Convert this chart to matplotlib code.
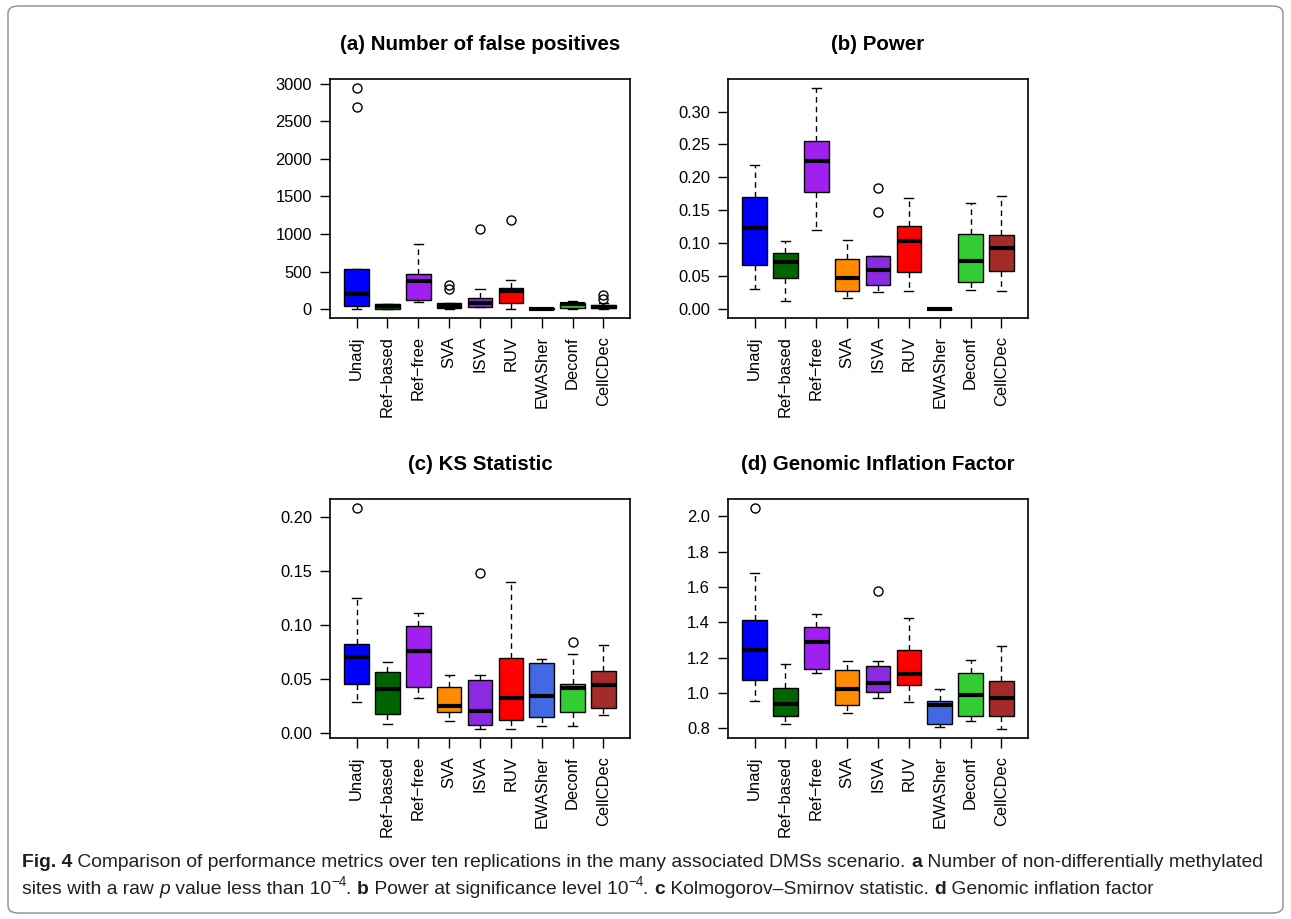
import matplotlib
matplotlib.use("Agg")
import matplotlib.pyplot as plt
from matplotlib.patches import FancyBboxPatch
import numpy as np

methods = ["Unadj", "Ref\u2212based", "Ref\u2212free", "SVA", "ISVA", "RUV",
           "EWASher", "Deconf", "CellCDec"]
colors = ["#0000FF", "#006400", "#A020F0", "#FF8C00", "#8A2BE2", "#FF0000",
          "#4169E1", "#32CD32", "#A52A2A"]

# (a) number of false positives
fp_whislo = [5, 0, 89, 5, 25, 5, 0, 5, 5]
fp_q1 = [40, 4, 124, 13, 31, 80, 2, 13, 10]
fp_med = [208, 40, 377, 45, 84, 248, 5, 62, 28]
fp_q3 = [536, 71, 470, 80, 142, 279, 12, 80, 60]
fp_whishi = [540, 75, 868, 85, 266, 385, 20, 102, 78]
fp_fliers = [[2946, 2685], [], [], [319, 270], [1072], [1183], [], [], [195, 138]]

# (b) power
pw_whislo = [0.0304, 0.0121, 0.1199, 0.0167, 0.0258, 0.0283, 0.0, 0.0293, 0.0268]
pw_q1 = [0.0668, 0.048, 0.1776, 0.0268, 0.0364, 0.0567, 0.0, 0.041, 0.0582]
pw_med = [0.123, 0.0723, 0.2246, 0.0476, 0.0592, 0.1042, 0.0, 0.0728, 0.0921]
pw_q3 = [0.170, 0.0855, 0.255, 0.0759, 0.0804, 0.126, 0.0, 0.1148, 0.1128]
pw_whishi = [0.2196, 0.104, 0.336, 0.1057, 0.0810, 0.1685, 0.0, 0.161, 0.1715]
pw_fliers = [[], [], [], [], [0.1847, 0.1482], [], [], [], []]

# (c) KS statistic
ks_whislo = [0.0287, 0.0086, 0.0324, 0.0111, 0.0034, 0.004, 0.0062, 0.0065, 0.0164]
ks_q1 = [0.0454, 0.017, 0.0429, 0.0194, 0.0071, 0.0117, 0.0151, 0.0191, 0.0228]
ks_med = [0.0707, 0.041, 0.0759, 0.0253, 0.0198, 0.0321, 0.0346, 0.042, 0.0444]
ks_q3 = [0.0821, 0.0562, 0.0991, 0.0426, 0.0488, 0.0698, 0.0651, 0.0451, 0.0571]
ks_whishi = [0.1247, 0.0657, 0.1114, 0.0537, 0.0534, 0.1395, 0.0682, 0.0731, 0.0815]
ks_fliers = [[0.2086], [], [], [], [0.1478], [], [], [0.0846], []]

# (d) genomic inflation factor
gif_whislo = [0.953, 0.8245, 1.111, 0.883, 0.9698, 0.947, 0.804, 0.843, 0.794]
gif_q1 = [1.0736, 0.868, 1.136, 0.932, 1.0075, 1.0434, 0.826, 0.866, 0.870]
gif_med = [1.2415, 0.938, 1.2906, 1.0245, 1.0547, 1.1075, 0.930, 0.985, 0.968]
gif_q3 = [1.415, 1.030, 1.375, 1.130, 1.153, 1.243, 0.953, 1.113, 1.068]
gif_whishi = [1.677, 1.164, 1.445, 1.179, 1.183, 1.4245, 1.0208, 1.185, 1.264]
gif_fliers = [[2.049], [], [], [], [1.579], [], [], [], []]

titles = ["(a) Number of false positives", "(b) Power", "(c) KS Statistic",
          "(d) Genomic Inflation Factor"]
panels = [
    (fp_whislo, fp_q1, fp_med, fp_q3, fp_whishi, fp_fliers, np.arange(0, 3001, 500), "%d"),
    (pw_whislo, pw_q1, pw_med, pw_q3, pw_whishi, pw_fliers, np.arange(0, 0.301, 0.05), "%.2f"),
    (ks_whislo, ks_q1, ks_med, ks_q3, ks_whishi, ks_fliers, np.arange(0, 0.201, 0.05), "%.2f"),
    (gif_whislo, gif_q1, gif_med, gif_q3, gif_whishi, gif_fliers, np.arange(0.8, 2.01, 0.2), "%.1f"),
]

plt.rcParams['font.family'] = ['Liberation Sans', 'DejaVu Sans']

W, H = 1291, 919
fig = plt.figure(figsize=(W / 100, H / 100), dpi=100)
fig.patch.set_facecolor("white")

# axes boxes in pixels: left, top
boxes_px = [(330, 79), (728, 79), (330, 499), (728, 499)]
aw, ah = 300, 239

for (lx, ty), title, (wlo, q1, med, q3, whi, fl, yt, fmt) in zip(boxes_px, titles, panels):
    ax = fig.add_axes([lx / W, 1 - (ty + ah) / H, aw / W, ah / H])
    stats = []
    for i in range(len(methods)):
        stats.append(dict(med=med[i], q1=q1[i], q3=q3[i], whislo=wlo[i],
                          whishi=whi[i], fliers=fl[i]))
    bp = ax.bxp(stats, positions=np.arange(1, 10), widths=0.8, capwidths=0.3,
                patch_artist=True,
                boxprops=dict(edgecolor="black", linewidth=1.0),
                medianprops=dict(color="black", linewidth=3.0, solid_capstyle="butt"),
                whiskerprops=dict(color="black", linewidth=1.0, linestyle=(0, (4, 3))),
                capprops=dict(color="black", linewidth=1.0),
                flierprops=dict(marker="o", markerfacecolor="none",
                                markeredgecolor="black", markersize=6.5,
                                markeredgewidth=1.0))
    for patch, c in zip(bp["boxes"], colors):
        patch.set_facecolor(c)

    allv = wlo + whi + [v for f in fl for v in f]
    lo, hi = min(allv), max(allv)
    r = hi - lo
    ax.set_ylim(lo - 0.04 * r, hi + 0.04 * r)
    ax.set_xlim(0.14, 9.86)

    ax.set_yticks(yt)
    ax.set_yticklabels([fmt % v for v in yt])
    ax.set_xticks(np.arange(1, 10))
    ax.set_xticklabels(methods, rotation=90)
    ax.tick_params(axis="both", direction="out", length=7, width=1.0,
                   labelsize=11.9, pad=6, colors="black")
    for s in ax.spines.values():
        s.set_linewidth(1.2)
    ax.set_title(title, fontsize=14.8, fontweight="bold", pad=21)

# figure frame with rounded corners
frame = FancyBboxPatch((8 / W, 6 / H), (1283 - 8) / W, (913 - 6) / H,
                       boxstyle="round,pad=0,rounding_size=0.008",
                       transform=fig.transFigure, facecolor="none",
                       edgecolor="#8c8c8c", linewidth=1.0)
fig.patches.append(frame)

# caption, assembled from styled runs
cap_size = 13.9
renderer = fig.canvas.get_renderer()


def write_runs(x0, y, parts):
    x = x0
    for text, style in parts:
        kw = dict(fontsize=cap_size, color="#231f20", va="baseline", ha="left")
        dy = 0
        if style == "b":
            kw["fontweight"] = "bold"
        elif style == "i":
            kw["fontstyle"] = "italic"
        elif style == "sup":
            kw["fontsize"] = cap_size * 0.7
            dy = 8
        t = fig.text(x / W, 1 - (y - dy) / H, text, **kw)
        x += t.get_window_extent(renderer).width


line1 = [("Fig. 4", "b"),
         (" Comparison of performance metrics over ten replications in the many associated DMSs scenario. ", ""),
         ("a", "b"),
         (" Number of non-differentially methylated", "")]
line2 = [("sites with a raw ", ""), ("p", "i"), (" value less than 10", ""), ("\u22124", "sup"),
         (". ", ""), ("b", "b"), (" Power at significance level 10", ""), ("\u22124", "sup"),
         (". ", ""), ("c", "b"), (" Kolmogorov\u2013Smirnov statistic. ", ""),
         ("d", "b"), (" Genomic inflation factor", "")]
write_runs(22, 867, line1)
write_runs(22, 894, line2)

fig.savefig("out.png", dpi=100, facecolor="white")
